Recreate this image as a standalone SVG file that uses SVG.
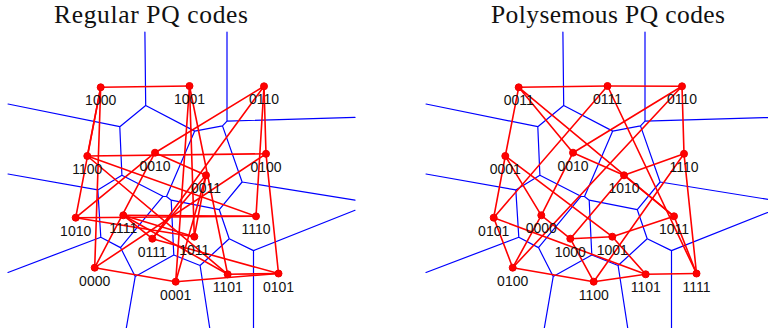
<svg xmlns="http://www.w3.org/2000/svg" xmlns:xlink="http://www.w3.org/1999/xlink" width="768" height="328" viewBox="0 0 768 328">
<style>
.title{font-family:"Liberation Serif","DejaVu Serif",serif;font-size:25.5px;fill:#111;text-anchor:middle}
.lbl{font-family:"Liberation Sans",Arial,sans-serif;font-size:14px;fill:#111;text-anchor:middle}
.vor{fill:none;stroke:#0000ff;stroke-width:1.2;stroke-linecap:round;stroke-linejoin:round}
.edge line{stroke:#ff0000;stroke-width:1.6;stroke-linecap:round}
.node circle{fill:#ff0000;stroke:#ee0000;stroke-width:1}
</style>
<defs>
<path id="vor" class="vor" d="M144.9,32 L145.7,105.5 M145.7,105.5 L119.8,126.7 M145.7,105.5 L194.7,131.1 M8,104 L119.8,126.7 M119.8,126.7 L121.9,175.2 M194.7,131.1 L222.5,125.9 M194.7,131.1 L166.5,196.5 M222.5,125.9 L227,121.1 M227,121.1 L227,32 M227,121.1 L355,117.4 M222.5,125.9 L242.1,182 M242.1,182 L355,200.2 M242.1,182 L219.3,209.7 M219.3,209.7 L171.2,200.2 M171.2,200.2 L166.5,196.5 L162.9,196.3 M162.9,196.3 L121.9,175.2 M121.9,175.2 L97.8,189.9 M97.8,189.9 L8,174 M97.8,189.9 L100.8,237.2 M100.8,237.2 L8,272.5 M100.8,237.2 L120.5,247.6 M120.5,247.6 L162.9,196.3 M120.5,247.6 L135.2,276.6 M135.2,276.6 L125.1,335 M135.2,276.6 L173.8,255 M173.8,255 L171.2,200.2 M173.8,255 L200.1,265.5 M200.1,265.5 L210.8,335 M200.1,265.5 L229.2,238.8 M229.2,238.8 L219.3,209.7 M229.2,238.8 L253.5,250.6 M253.5,250.6 L355,210.3 M253.5,250.6 L253.5,335"/>
</defs>
<text class="title" x="151" y="23" textLength="194" lengthAdjust="spacing">Regular PQ codes</text>
<text class="title" x="608" y="23" textLength="234" lengthAdjust="spacing">Polysemous PQ codes</text>
<g id="voronoi">
<use xlink:href="#vor" href="#vor"/>
<use xlink:href="#vor" href="#vor" x="418" y="0"/>
</g>
<g id="connectors" class="edge">
<line x1="94.7" y1="267.7" x2="175.7" y2="281.7"/>
<line x1="94.7" y1="267.7" x2="155" y2="152.7"/>
<line x1="94.7" y1="267.7" x2="266" y2="153.8"/>
<line x1="94.7" y1="267.7" x2="100.7" y2="87.3"/>
<line x1="175.7" y1="281.7" x2="206" y2="175.3"/>
<line x1="175.7" y1="281.7" x2="278.5" y2="273.5"/>
<line x1="175.7" y1="281.7" x2="189.5" y2="86"/>
<line x1="155" y1="152.7" x2="206" y2="175.3"/>
<line x1="155" y1="152.7" x2="264" y2="86.3"/>
<line x1="155" y1="152.7" x2="75.7" y2="217.7"/>
<line x1="206" y1="175.3" x2="152.3" y2="238.7"/>
<line x1="206" y1="175.3" x2="194.3" y2="236.7"/>
<line x1="266" y1="153.8" x2="278.5" y2="273.5"/>
<line x1="266" y1="153.8" x2="264" y2="86.3"/>
<line x1="266" y1="153.8" x2="87.3" y2="156"/>
<line x1="278.5" y1="273.5" x2="152.3" y2="238.7"/>
<line x1="278.5" y1="273.5" x2="227.7" y2="274.3"/>
<line x1="264" y1="86.3" x2="152.3" y2="238.7"/>
<line x1="264" y1="86.3" x2="256" y2="216.3"/>
<line x1="152.3" y1="238.7" x2="123.3" y2="215.3"/>
<line x1="100.7" y1="87.3" x2="189.5" y2="86"/>
<line x1="100.7" y1="87.3" x2="75.7" y2="217.7"/>
<line x1="100.7" y1="87.3" x2="87.3" y2="156"/>
<line x1="189.5" y1="86" x2="194.3" y2="236.7"/>
<line x1="189.5" y1="86" x2="227.7" y2="274.3"/>
<line x1="75.7" y1="217.7" x2="194.3" y2="236.7"/>
<line x1="75.7" y1="217.7" x2="256" y2="216.3"/>
<line x1="194.3" y1="236.7" x2="123.3" y2="215.3"/>
<line x1="87.3" y1="156" x2="227.7" y2="274.3"/>
<line x1="87.3" y1="156" x2="256" y2="216.3"/>
<line x1="227.7" y1="274.3" x2="123.3" y2="215.3"/>
<line x1="256" y1="216.3" x2="123.3" y2="215.3"/>

<line x1="541.3" y1="215.3" x2="505.3" y2="156"/>
<line x1="541.3" y1="215.3" x2="573" y2="152.7"/>
<line x1="541.3" y1="215.3" x2="512.7" y2="267.7"/>
<line x1="541.3" y1="215.3" x2="570.3" y2="238.7"/>
<line x1="505.3" y1="156" x2="518.7" y2="87.3"/>
<line x1="505.3" y1="156" x2="493.7" y2="217.7"/>
<line x1="505.3" y1="156" x2="612.3" y2="236.7"/>
<line x1="573" y1="152.7" x2="518.7" y2="87.3"/>
<line x1="573" y1="152.7" x2="682" y2="86.3"/>
<line x1="573" y1="152.7" x2="624" y2="175.3"/>
<line x1="518.7" y1="87.3" x2="607.5" y2="86"/>
<line x1="518.7" y1="87.3" x2="674" y2="216.3"/>
<line x1="512.7" y1="267.7" x2="493.7" y2="217.7"/>
<line x1="512.7" y1="267.7" x2="682" y2="86.3"/>
<line x1="512.7" y1="267.7" x2="593.7" y2="281.7"/>
<line x1="493.7" y1="217.7" x2="607.5" y2="86"/>
<line x1="493.7" y1="217.7" x2="645.7" y2="274.3"/>
<line x1="682" y1="86.3" x2="607.5" y2="86"/>
<line x1="682" y1="86.3" x2="684" y2="153.8"/>
<line x1="607.5" y1="86" x2="696.5" y2="273.5"/>
<line x1="570.3" y1="238.7" x2="612.3" y2="236.7"/>
<line x1="570.3" y1="238.7" x2="624" y2="175.3"/>
<line x1="570.3" y1="238.7" x2="593.7" y2="281.7"/>
<line x1="612.3" y1="236.7" x2="674" y2="216.3"/>
<line x1="612.3" y1="236.7" x2="645.7" y2="274.3"/>
<line x1="624" y1="175.3" x2="674" y2="216.3"/>
<line x1="624" y1="175.3" x2="684" y2="153.8"/>
<line x1="674" y1="216.3" x2="696.5" y2="273.5"/>
<line x1="593.7" y1="281.7" x2="645.7" y2="274.3"/>
<line x1="593.7" y1="281.7" x2="684" y2="153.8"/>
<line x1="645.7" y1="274.3" x2="696.5" y2="273.5"/>
<line x1="684" y1="153.8" x2="696.5" y2="273.5"/>
</g>
<g id="regular-nodes">
<g id="L0000" class="node"><circle cx="94.7" cy="267.7" r="3.5"/><text class="lbl" x="94.7" y="285.7">0000</text></g>
<g id="L0001" class="node"><circle cx="175.7" cy="281.7" r="3.5"/><text class="lbl" x="175.7" y="299.7">0001</text></g>
<g id="L0010" class="node"><circle cx="155" cy="152.7" r="3.5"/><text class="lbl" x="155" y="170.7">0010</text></g>
<g id="L0011" class="node"><circle cx="206" cy="175.3" r="3.5"/><text class="lbl" x="206" y="193.3">0011</text></g>
<g id="L0100" class="node"><circle cx="266" cy="153.8" r="3.5"/><text class="lbl" x="266" y="171.8">0100</text></g>
<g id="L0101" class="node"><circle cx="278.5" cy="273.5" r="3.5"/><text class="lbl" x="278.5" y="291.5">0101</text></g>
<g id="L0110" class="node"><circle cx="264" cy="86.3" r="3.5"/><text class="lbl" x="264" y="104.3">0110</text></g>
<g id="L0111" class="node"><circle cx="152.3" cy="238.7" r="3.5"/><text class="lbl" x="152.3" y="256.7">0111</text></g>
<g id="L1000" class="node"><circle cx="100.7" cy="87.3" r="3.5"/><text class="lbl" x="100.7" y="105.3">1000</text></g>
<g id="L1001" class="node"><circle cx="189.5" cy="86" r="3.5"/><text class="lbl" x="189.5" y="104">1001</text></g>
<g id="L1010" class="node"><circle cx="75.7" cy="217.7" r="3.5"/><text class="lbl" x="75.7" y="235.7">1010</text></g>
<g id="L1011" class="node"><circle cx="194.3" cy="236.7" r="3.5"/><text class="lbl" x="194.3" y="254.7">1011</text></g>
<g id="L1100" class="node"><circle cx="87.3" cy="156" r="3.5"/><text class="lbl" x="87.3" y="174">1100</text></g>
<g id="L1101" class="node"><circle cx="227.7" cy="274.3" r="3.5"/><text class="lbl" x="227.7" y="292.3">1101</text></g>
<g id="L1110" class="node"><circle cx="256" cy="216.3" r="3.5"/><text class="lbl" x="256" y="234.3">1110</text></g>
<g id="L1111" class="node"><circle cx="123.3" cy="215.3" r="3.5"/><text class="lbl" x="123.3" y="233.3">1111</text></g>
</g>
<g id="polysemous-nodes">
<g id="P0000" class="node"><circle cx="541.3" cy="215.3" r="3.5"/><text class="lbl" x="541.3" y="233.3">0000</text></g>
<g id="P0001" class="node"><circle cx="505.3" cy="156" r="3.5"/><text class="lbl" x="505.3" y="174">0001</text></g>
<g id="P0010" class="node"><circle cx="573" cy="152.7" r="3.5"/><text class="lbl" x="573" y="170.7">0010</text></g>
<g id="P0011" class="node"><circle cx="518.7" cy="87.3" r="3.5"/><text class="lbl" x="518.7" y="105.3">0011</text></g>
<g id="P0100" class="node"><circle cx="512.7" cy="267.7" r="3.5"/><text class="lbl" x="512.7" y="285.7">0100</text></g>
<g id="P0101" class="node"><circle cx="493.7" cy="217.7" r="3.5"/><text class="lbl" x="493.7" y="235.7">0101</text></g>
<g id="P0110" class="node"><circle cx="682" cy="86.3" r="3.5"/><text class="lbl" x="682" y="104.3">0110</text></g>
<g id="P0111" class="node"><circle cx="607.5" cy="86" r="3.5"/><text class="lbl" x="607.5" y="104">0111</text></g>
<g id="P1000" class="node"><circle cx="570.3" cy="238.7" r="3.5"/><text class="lbl" x="570.3" y="256.7">1000</text></g>
<g id="P1001" class="node"><circle cx="612.3" cy="236.7" r="3.5"/><text class="lbl" x="612.3" y="254.7">1001</text></g>
<g id="P1010" class="node"><circle cx="624" cy="175.3" r="3.5"/><text class="lbl" x="624" y="193.3">1010</text></g>
<g id="P1011" class="node"><circle cx="674" cy="216.3" r="3.5"/><text class="lbl" x="674" y="234.3">1011</text></g>
<g id="P1100" class="node"><circle cx="593.7" cy="281.7" r="3.5"/><text class="lbl" x="593.7" y="299.7">1100</text></g>
<g id="P1101" class="node"><circle cx="645.7" cy="274.3" r="3.5"/><text class="lbl" x="645.7" y="292.3">1101</text></g>
<g id="P1110" class="node"><circle cx="684" cy="153.8" r="3.5"/><text class="lbl" x="684" y="171.8">1110</text></g>
<g id="P1111" class="node"><circle cx="696.5" cy="273.5" r="3.5"/><text class="lbl" x="696.5" y="291.5">1111</text></g>
</g>
</svg>
